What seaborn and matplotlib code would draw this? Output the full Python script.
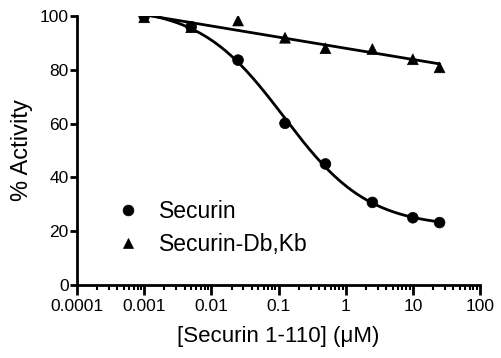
import numpy as np
import pandas as pd
import seaborn as sns
import matplotlib
matplotlib.use('Agg')
import matplotlib.pyplot as plt
from matplotlib.ticker import FixedLocator, FixedFormatter, LogLocator, NullFormatter

# data
conc = [0.001, 0.005, 0.025, 0.125, 0.5, 2.5, 10, 25]
securin = [100, 96, 83.6, 60.1, 45, 30.7, 25, 23.2]
securin_dbkb = [99.5, 95.8, 98.3, 91.9, 88, 87.7, 83.9, 80.9]
names = ['Securin', 'Securin-Db,Kb']
xtick_vals = [0.0001, 0.001, 0.01, 0.1, 1, 10, 100]
xtick_labels = ['0.0001', '0.001', '0.01', '0.1', '1', '10', '100']
ytick_vals = [0, 20, 40, 60, 80, 100]

df = pd.DataFrame({
    'conc': conc * 2,
    'activity': securin + securin_dbkb,
    'protein': [names[0]] * len(conc) + [names[1]] * len(conc),
})

# fit curves (4PL for securin, straight line in log x for the mutant)
logx = np.log10(conc)
y1 = np.array(securin)
best = None
for lic in np.linspace(-2.5, 1, 351):
    for h in np.linspace(0.3, 2.5, 221):
        s = 1 / (1 + 10 ** ((logx - lic) * h))
        A = np.column_stack([1 - s, s])
        coef, *_ = np.linalg.lstsq(A, y1, rcond=None)
        err = np.sum((A @ coef - y1) ** 2)
        if best is None or err < best[0]:
            best = (err, lic, h, coef)
_, lic, h, (bottom, top) = best

xfit = np.logspace(np.log10(conc[0]), np.log10(conc[-1]), 200)
s = 1 / (1 + 10 ** ((np.log10(xfit) - lic) * h))
fit1 = bottom * (1 - s) + top * s
p = np.polyfit(logx, securin_dbkb, 1)
fit2 = np.polyval(p, np.log10(xfit))

fit_df = pd.DataFrame({
    'conc': np.concatenate([xfit, xfit]),
    'activity': np.concatenate([fit1, fit2]),
    'protein': [names[0]] * len(xfit) + [names[1]] * len(xfit),
})

sns.set_style('ticks')
plt.rcParams['font.family'] = ['Liberation Sans', 'DejaVu Sans']
plt.rcParams['text.color'] = 'black'
plt.rcParams['axes.labelcolor'] = 'black'

fig = plt.figure(figsize=(5.01, 3.58), dpi=100)
ax = fig.add_axes([77 / 501, 1 - 285 / 358, 403 / 501, 269 / 358])
ax.set_xscale('log')

sns.lineplot(data=fit_df, x='conc', y='activity', units='protein', estimator=None,
             color='black', linewidth=2.0, ax=ax, legend=False)
sns.scatterplot(data=df, x='conc', y='activity', style='protein',
                markers={names[0]: 'o', names[1]: '^'}, color='black',
                s=60, edgecolor='black', linewidth=0.5, ax=ax, zorder=3)

ax.set_xlim(1e-4, 100)
ax.set_ylim(0, 100)
ax.xaxis.set_major_locator(FixedLocator(xtick_vals))
ax.xaxis.set_major_formatter(FixedFormatter(xtick_labels))
ax.xaxis.set_minor_locator(LogLocator(base=10, subs=np.arange(2, 10), numticks=20))
ax.xaxis.set_minor_formatter(NullFormatter())
ax.set_yticks(ytick_vals)

for sp in ['top', 'right']:
    ax.spines[sp].set_visible(False)
for sp in ['left', 'bottom']:
    ax.spines[sp].set_linewidth(2)
    ax.spines[sp].set_color('black')

ax.tick_params(axis='x', which='major', length=7, width=2, labelsize=12.5, pad=3,
               color='black', labelcolor='black')
ax.tick_params(axis='x', which='minor', length=3.5, width=1.5, color='black')
ax.tick_params(axis='y', which='major', length=5, width=2, labelsize=12.5, pad=1,
               color='black', labelcolor='black')

ax.set_xlabel('[Securin 1-110] (\u03bcM)', fontsize=16, labelpad=9)
ax.set_ylabel('% Activity', fontsize=17, labelpad=5)

leg = ax.legend(loc='lower left', bbox_to_anchor=(0.075, 0.075), frameon=False,
                fontsize=16.5, handlelength=1.0, handletextpad=0.85, labelspacing=0.42,
                borderaxespad=0)

fig.savefig('out.png', dpi=100)
